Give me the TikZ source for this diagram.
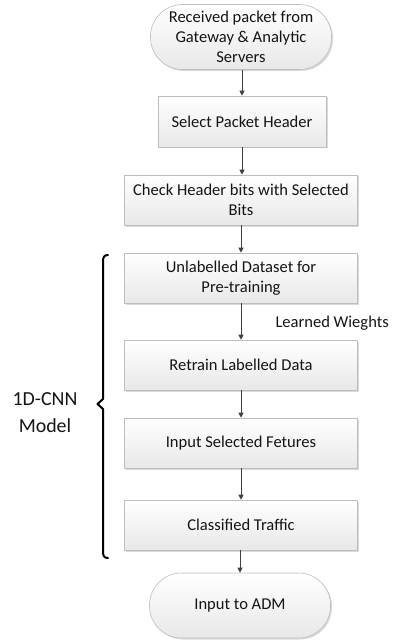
\documentclass[tikz,border=0pt]{standalone}
\usepackage{fontspec}
\setmainfont{Carlito}
\usetikzlibrary{shadows,arrows.meta}
\definecolor{txt}{HTML}{141414}
\definecolor{edge}{HTML}{BDBDBD}
\definecolor{arrowc}{HTML}{404040}
\tikzset{
  x=1bp, y=-1bp,
  every node/.style={text=txt, font=\fontsize{16.6}{20}\selectfont},
  flowbox/.style={draw=edge, line width=0.6bp, top color=white, bottom color=black!9,
    minimum width=233bp, minimum height=50bp, align=center, inner sep=1bp,
    drop shadow={shadow xshift=1.5bp, shadow yshift=-1.5bp, opacity=0.25, fill=black!60}},
  terminal/.style={flowbox, rounded corners=32bp, minimum width=181bp, minimum height=65bp},
  arr/.style={draw=arrowc, line width=1bp, -{Triangle[length=5bp,width=5bp]}},
  bracket/.style={draw=black, line width=2bp, line join=round, line cap=round}
}
\begin{document}
\begin{tikzpicture}
\useasboundingbox (0,0) rectangle (392,643);

% process steps
\node[terminal] (recv) at (241,37) {Received packet from\\Gateway \& Analytic\\Servers};
\node[flowbox, minimum width=168bp, minimum height=51bp] (hdr) at (242,121.5) {Select Packet Header};
\node[flowbox] (check) at (241,200) {Check Header bits with Selected\\Bits};
\node[flowbox] (unlab) at (241,278) {Unlabelled Dataset for\\Pre-training};
\node[flowbox] (retrain) at (241,365) {Retrain Labelled Data};
\node[flowbox] (feat) at (241,443) {Input Selected Fetures};
\node[flowbox] (cls) at (241,525) {Classified Traffic};
\node[terminal] (adm) at (240,605.5) {Input to ADM};

% connectors
\draw[arr] (recv.south -| hdr.north) -- (hdr.north);
\draw[arr] (hdr.south) -- (check.north -| hdr.south);
\draw[arr] (check) -- (unlab);
\draw[arr] (unlab) -- node[anchor=west, xshift=33bp, yshift=-2bp, inner sep=1bp] (lw) {Learned Wieghts} (retrain);
\draw[arr] (retrain) -- (feat);
\draw[arr] (feat) -- (cls);
\draw[arr] (cls.south -| adm.north) -- (adm.north);

% bracket around the model stages
\coordinate (btop) at (108,255);
\coordinate (btip) at (97.5,404);
\coordinate (bbot) at (108,558);
\draw[bracket] (btop) .. controls (104,255) and (103,257) .. (103,262)
  -- (103,399) -- (btip) -- (103,409)
  -- (103,551) .. controls (103,556) and (104,558) .. (bbot);
\node[font=\fontsize{20}{27}\selectfont, align=center] (model) at (45,413) {1D-CNN\\Model};
\end{tikzpicture}
\end{document}
